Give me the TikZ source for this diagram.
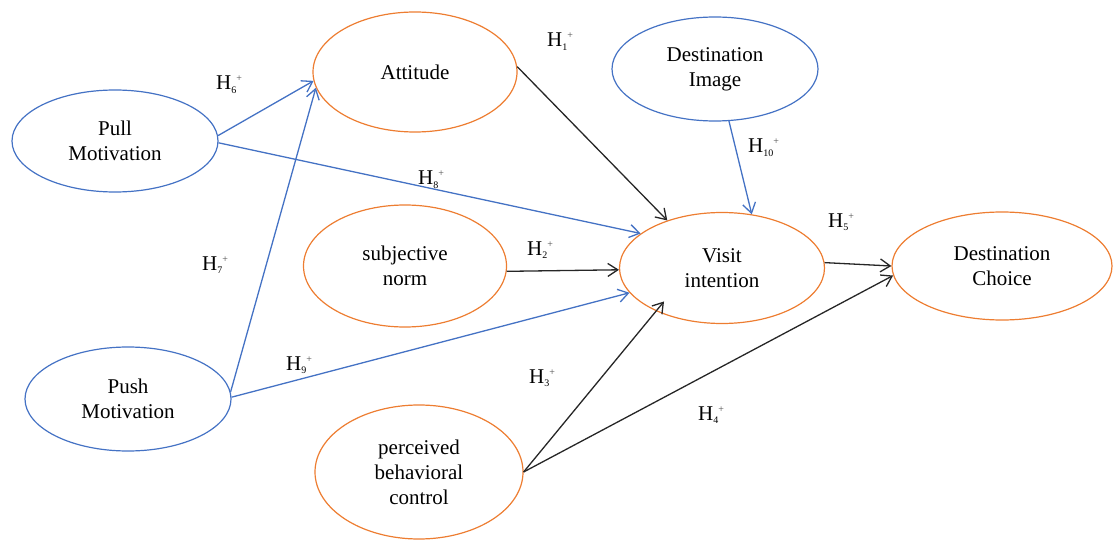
\documentclass[tikz,border=0pt]{standalone}
\usepackage{fontspec}
\setmainfont{Liberation Serif}
\usetikzlibrary{shapes.geometric,arrows.meta,calc}
\definecolor{oblue}{HTML}{4472C4}
\definecolor{oorange}{HTML}{ED7D31}
\newcommand{\hyp}[1]{H\raisebox{-3.5pt}{\fontsize{10}{10}\selectfont #1}\raisebox{8pt}{\fontsize{10}{10}\selectfont\color{black!70}+}}
\tikzset{
  ell/.style={ellipse, draw, line width=1.2pt, inner sep=0pt, align=center,
              font=\fontsize{21}{25}\selectfont},
  blueell/.style={ell, draw=oblue},
  orell/.style={ell, draw=oorange},
  arr/.style={line width=1.3pt, -{Straight Barb[length=10pt,width=13pt]}},
  barr/.style={arr, draw=oblue},
  karr/.style={arr, draw=black!85},
  hlab/.style={anchor=base west, inner sep=0pt, font=\fontsize{21}{25}\selectfont}
}
\begin{document}
\begin{tikzpicture}[x=1pt,y=-1pt]
\useasboundingbox (0,0) rectangle (1113,540);
% nodes
\node[orell, minimum width=204pt, minimum height=120pt] (att) at (415,72) {Attitude};
\node[blueell, minimum width=206pt, minimum height=104pt] (dimg) at (715,69) {Destination\\Image};
\node[blueell, minimum width=206pt, minimum height=102pt] (pull) at (115,141) {Pull\\Motivation};
\node[orell, minimum width=203pt, minimum height=122pt] (subj) at (405,266) {subjective\\norm};
\node[orell, minimum width=205pt, minimum height=111pt] (visit) at (722,268) {Visit\\intention};
\node[orell, minimum width=220pt, minimum height=108pt] (dch) at (1002,266) {Destination\\Choice};
\node[blueell, minimum width=206pt, minimum height=104pt] (push) at (128,399) {Push\\Motivation};
\node[orell, minimum width=208pt, minimum height=134pt] (pbc) at (419,472) {perceived\\behavioral\\control};
% connectors
\draw[barr] (pull.3) -- (att.185);
\draw[barr] (push.4) -- (att.189);
\draw[barr] (pull.-1) -- (visit.157);
\draw[barr] (push.1) -- (visit.195);
\draw[barr] (dimg.-75) -- (visit.61);
\draw[karr] (att.3) -- (visit.139);
\draw[karr] (subj.-3) -- (visit.181);
\draw[karr] (pbc.east) -- ($(visit.center)!0.82!(visit.210)$);
\draw[karr] (pbc.east) -- (dch.185);
\draw[karr] (visit.3) -- (dch.180);
% labels
\node[hlab] (h1) at (547,47) {\hyp{1}};
\node[hlab] (h2) at (527,255) {\hyp{2}};
\node[hlab] (h3) at (529,383) {\hyp{3}};
\node[hlab] (h4) at (698,420) {\hyp{4}};
\node[hlab] (h5) at (828,227) {\hyp{5}};
\node[hlab] (h6) at (216,90) {\hyp{6}};
\node[hlab] (h7) at (202,270) {\hyp{7}};
\node[hlab] (h8) at (418,185) {\hyp{8}};
\node[hlab] (h9) at (286,370) {\hyp{9}};
\node[hlab] (h10) at (748,153) {\hyp{10}};
\end{tikzpicture}
\end{document}
